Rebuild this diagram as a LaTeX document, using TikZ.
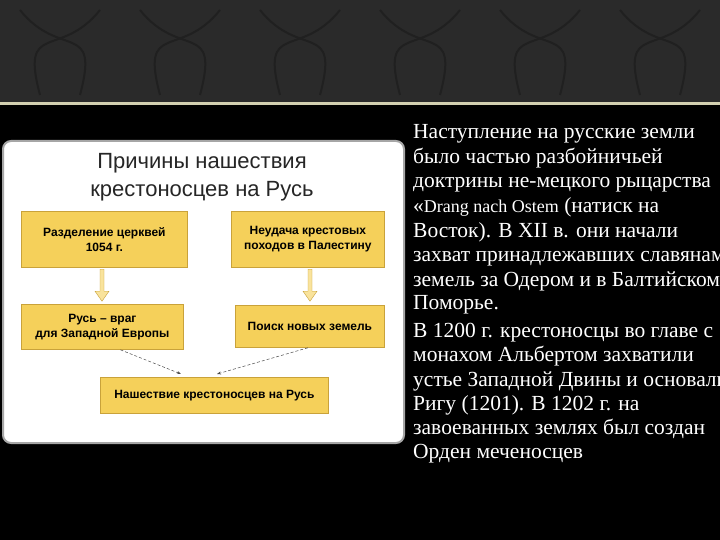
\documentclass[tikz,border=0pt]{standalone}
\usepackage{fontspec}
\setmainfont{Liberation Serif}
\newfontfamily\arialf{Liberation Sans}
\usetikzlibrary{arrows.meta,shapes.arrows}
\definecolor{ybox}{HTML}{F5D05A}
\definecolor{yborder}{HTML}{C9A23A}
\definecolor{band}{HTML}{2A2A2A}
\tikzset{
 ybx/.style={draw=yborder,fill=ybox,line width=0.8pt,font=\arialf\bfseries\fontsize{12}{15}\selectfont,align=center,inner sep=0pt},
 harrow/.style={single arrow,draw=yborder,fill=ybox!60!white,minimum width=14pt,single arrow head extend=3pt,single arrow tip angle=70,shape border rotate=270,minimum height=32pt,inner sep=1pt},
 dcon/.style={densely dashed,draw=black!70,line width=0.5pt,-{Stealth[length=4pt]}},
 rtext/.style={anchor=base west,text=white,font=\fontsize{21.5}{24}\selectfont,inner sep=0pt}
}
\begin{document}
\begin{tikzpicture}[x=1pt,y=1pt]
\useasboundingbox (0,0) rectangle (720,-540);
\clip (0,0) rectangle (720,-540);
\fill[black] (0,0) rectangle (720,-540);
\fill[band] (0,0) rectangle (720,-103);
\foreach \i in {0,...,6}{
 \draw[black!25!band,line width=2pt] (\i*120+20,-10) .. controls (\i*120+60,-60) and (\i*120+100,-20) .. (\i*120+80,-95);
 \draw[black!25!band,line width=2pt] (\i*120+100,-10) .. controls (\i*120+60,-60) and (\i*120+20,-20) .. (\i*120+40,-95);
}
\fill[gray!60!olive!40] (0,-102) rectangle (720,-105);
% panel
\node[draw=gray!70,line width=2pt,fill=white,rounded corners=8pt,minimum width=401pt,minimum height=302pt,anchor=north west] (panel) at (2,-140) {};
\node[font=\arialf\fontsize{22}{28}\selectfont,align=center,text=black!85] (title) at (202,-177) {Причины нашествия\\крестоносцев на Русь};
\node[ybx,minimum width=166pt,minimum height=56pt,anchor=north west] (b1) at (21,-211) {Разделение церквей\\1054 г.};
\node[ybx,minimum width=153pt,minimum height=56pt,anchor=north west] (b2) at (231,-211) {Неудача крестовых\\походов в Палестину};
\node[ybx,minimum width=162pt,minimum height=45pt,anchor=north west] (b3) at (21,-304) {Русь – враг\\для Западной Европы};
\node[ybx,minimum width=149pt,minimum height=42pt,anchor=north west] (b4) at (235,-305) {Поиск новых земель};
\node[ybx,minimum width=228pt,minimum height=36pt,anchor=north west] (b5) at (100,-377) {Нашествие крестоносцев на Русь};
\node[harrow,anchor=tail] (a1) at (102,-269) {};
\node[harrow,anchor=tail] (a2) at (310,-269) {};
\coordinate (e3) at (181,-374);
\coordinate (e4) at (217,-374);
\draw[dcon] (b3.south) ++(18,0) coordinate (s3) -- (e3);
\draw[dcon] (b4.south) ++(-2,0) coordinate (s4) -- (e4);
% right text
\foreach \t/\yy in {Наступление на русские земли/139,было частью разбойничьей/164,доктрины не-мецкого рыцарства/188,{«{\fontsize{18}{20}\selectfont Drang nach Ostem} (натиск на}/212,Восток). В XII в. они начали/237,захват принадлежавших славянам/261,земель за Одером и в Балтийском/286,Поморье./309,В 1200 г. крестоносцы во главе с/337,монахом Альбертом захватили/361,устье Западной Двины и основали/386,Ригу (1201). В 1202 г. на/410,завоеванных землях был создан/434,Орден меченосцев/458}
 \node[rtext] at (413,-\yy) {\t};
\end{tikzpicture}
\end{document}
